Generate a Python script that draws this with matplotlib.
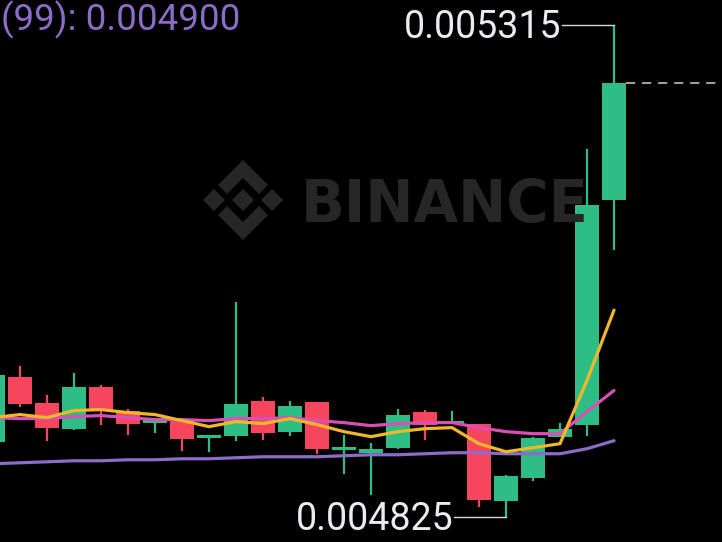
import matplotlib
matplotlib.use("Agg")
import matplotlib.pyplot as plt
from matplotlib.patches import Polygon
import numpy as np

# ---------------- data ----------------
opens  = [0.004900, 0.004964, 0.004939, 0.004913, 0.004954, 0.004931, 0.004919, 0.004921,
          0.004904, 0.004906, 0.004941, 0.004910, 0.004940, 0.004892, 0.004889, 0.004894,
          0.004930, 0.004918, 0.004918, 0.004841, 0.004864, 0.004905, 0.004917, 0.005141]
highs  = [0.004970, 0.004975, 0.004947, 0.004968, 0.004956, 0.004933, 0.004924, 0.004923,
          0.004907, 0.005039, 0.004945, 0.004941, 0.004940, 0.004907, 0.004899, 0.004933,
          0.004932, 0.004931, 0.004918, 0.004867, 0.004905, 0.004919, 0.005192, 0.005315]
lows   = [0.004892, 0.004935, 0.004901, 0.004912, 0.004917, 0.004907, 0.004909, 0.004891,
          0.004890, 0.004901, 0.004902, 0.004906, 0.004888, 0.004868, 0.004847, 0.004893,
          0.004902, 0.004918, 0.004835, 0.004825, 0.004861, 0.004905, 0.004906, 0.005091]
closes = [0.004966, 0.004938, 0.004914, 0.004954, 0.004932, 0.004918, 0.004922, 0.004903,
          0.004907, 0.004938, 0.004909, 0.004936, 0.004893, 0.004895, 0.004893, 0.004927,
          0.004917, 0.004921, 0.004842, 0.004866, 0.004904, 0.004913, 0.005136, 0.005257]

ma7  = [0.004924, 0.004927, 0.004924, 0.004931, 0.004932, 0.004929, 0.004927, 0.004921,
        0.004915, 0.004920, 0.004918, 0.004923, 0.004917, 0.004910, 0.004905, 0.004910,
        0.004913, 0.004914, 0.004898, 0.004890, 0.004894, 0.004898, 0.004961, 0.005031]
ma25 = [0.004924, 0.004923, 0.004923, 0.004925, 0.004926, 0.004924, 0.004922, 0.004922,
        0.004921, 0.004923, 0.004923, 0.004924, 0.004921, 0.004919, 0.004916, 0.004918,
        0.004919, 0.004919, 0.004914, 0.004910, 0.004908, 0.004908, 0.004930, 0.004951]
ma99 = [0.004878, 0.004879, 0.004880, 0.004881, 0.004881, 0.004882, 0.004882, 0.004883,
        0.004883, 0.004884, 0.004885, 0.004885, 0.004885, 0.004886, 0.004887, 0.004887,
        0.004888, 0.004889, 0.004889, 0.004888, 0.004888, 0.004888, 0.004893, 0.004901]

ma99_label = "(99): 0.004900"
high_label = "0.005315"
low_label = "0.004825"

# ---------------- style ----------------
GREEN = "#2ebd85"
RED = "#f6465d"
C_MA7 = "#f0b829"
C_MA25 = "#d94fb5"
C_MA99 = "#8c6cc6"
TXT = "#eaecef"
WM = "#262626"

W, H = 722, 542
fig = plt.figure(figsize=(W / 100, H / 100), dpi=100, facecolor="black")
ax = fig.add_axes([0, 0, 1, 1], facecolor="black")
ax.set_xlim(0.259, 27.0)
ax.set_ylim(0.0048001, 0.0053399)
ax.axis("off")

n = len(opens)
x = np.arange(n)

# ---------------- watermark ----------------
cx, cy = 243, 200  # pixel centre of logo (image coords)
def px(xx, yy):
    return ((cx + xx) / W, (H - cy + yy) / H)

def diamond(x0, y0, r):
    return [px(x0, y0 + r), px(x0 + r, y0), px(x0, y0 - r), px(x0 - r, y0)]

polys = [diamond(0, 0, 11), diamond(-29, 0, 11), diamond(29, 0, 11)]
top = [(0, 40), (25, 15), (16, 6), (0, 22), (-16, 6), (-25, 15)]
polys.append([px(a, b) for a, b in top])
polys.append([px(a, -b) for a, b in top])
for p in polys:
    fig.patches.append(Polygon(p, closed=True, transform=fig.transFigure,
                               facecolor=WM, edgecolor="none", zorder=0))
fig.text(301 / W, (H - 222) / H, "BINANCE", fontsize=41.5, fontweight="bold",
         family="DejaVu Sans", color=WM, ha="left", va="baseline", zorder=0)

# ---------------- candles ----------------
colors = [GREEN if c >= o else RED for o, c in zip(opens, closes)]
ax.vlines(x, lows, highs, colors=colors, linewidth=1.6, zorder=2)
minh = 0.0000025
bottoms = [min(o, c) for o, c in zip(opens, closes)]
heights = [max(abs(c - o), minh) for o, c in zip(opens, closes)]
ax.bar(x, heights, bottom=bottoms, width=0.86, color=colors, linewidth=0, zorder=2)

# ---------------- moving averages ----------------
ax.plot(x, ma99, color=C_MA99, linewidth=2.3, zorder=3, solid_capstyle="round")
ax.plot(x, ma25, color=C_MA25, linewidth=2.3, zorder=3, solid_capstyle="round")
ax.plot(x, ma7, color=C_MA7, linewidth=2.3, zorder=3, solid_capstyle="round")

# ---------------- current price dashed line ----------------
ax.plot([x[-1] + 0.43, 27.0], [closes[-1], closes[-1]], color="#d0d0d0",
        linewidth=1.1, dashes=(6, 4.5), zorder=3)

# ---------------- high / low labels ----------------
ih = int(np.argmax(highs))
il = int(np.argmin(lows))
for idx, val, lab in [(ih, highs[ih], high_label), (il, lows[il], low_label)]:
    ax.plot([idx - 1.93, idx], [val, val], color="#d8d8d8", linewidth=1.0, zorder=4)
    ax.annotate(lab, xy=(idx, val), xytext=(-53, -13), textcoords="offset pixels",
                ha="right", va="baseline", color=TXT, fontsize=27,
                family="Roboto", zorder=5)

# ---------------- MA99 header ----------------
fig.text(1 / W, (H - 30) / H, ma99_label, ha="left", va="baseline",
         color=C_MA99, fontsize=26.5, family="Roboto")

fig.savefig("out.png", dpi=100, facecolor="black")
